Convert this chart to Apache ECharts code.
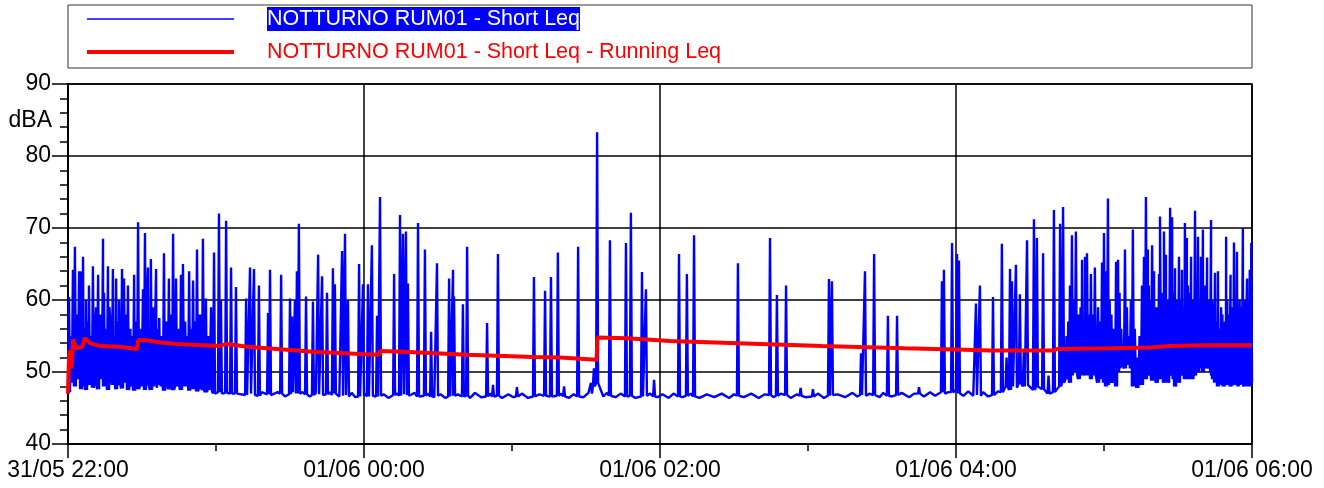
<!DOCTYPE html>
<html>
<head>
<meta charset="utf-8">
<script src="https://cdn.jsdelivr.net/npm/echarts@6/dist/echarts.min.js"></script>
<style>
  html, body { margin: 0; padding: 0; background: #fff; }
  #chart { width: 1324px; height: 488px; }
</style>
</head>
<body>
<div id="chart"></div>
<script>
const FONT = '"Liberation Sans", Arial, sans-serif'

// x axis: minutes since 31/05 22:00, labels every 2 hours
const timeLabels = ['31/05 22:00', '01/06 00:00', '01/06 02:00', '01/06 04:00', '01/06 06:00']
const seriesNames = ['NOTTURNO RUM01 - Short Leq', 'NOTTURNO RUM01 - Short Leq - Running Leq']

// Short Leq events: [minute, peak dBA, level either side of the peak dBA]
const shortLeqEvents = [
  [0.4, 60.4, 47.2], [2.0, 64.2, 49.5], [2.8, 67.4, 48.0], [4.5, 64.0, 50.5], [5.3, 64.0, 47.6],
  [6.1, 66.0, 48.5], [7.3, 60.0, 47.5], [8.5, 62.0, 48.2], [10.1, 64.7, 47.8], [11.4, 59.0, 49.0],
  [12.2, 63.5, 47.6], [14.2, 68.5, 50.0], [14.6, 61.0, 48.0], [16.2, 64.7, 47.5], [17.2, 57.0, 49.5],
  [18.2, 64.3, 48.2], [19.5, 63.0, 47.6], [20.7, 60.0, 48.5], [21.9, 64.3, 47.7], [22.7, 63.0, 49.0],
  [24.3, 62.0, 47.5], [25.3, 56.0, 48.0], [26.8, 63.5, 47.4], [28.4, 70.8, 47.6], [30.4, 61.5, 48.0],
  [31.2, 69.3, 47.5], [32.4, 64.5, 48.6], [33.6, 65.7, 47.5], [35.7, 64.3, 47.8], [37.0, 57.5, 48.5],
  [38.9, 66.5, 47.4], [40.9, 63.0, 47.6], [42.6, 69.2, 47.5], [43.8, 63.0, 48.0], [45.8, 63.5, 47.5],
  [46.6, 65.0, 48.3], [49.1, 64.0, 47.4], [50.7, 62.7, 47.6], [52.3, 67.0, 47.3], [54.7, 68.5, 47.5],
  [55.9, 60.2, 47.2], [58.0, 59.0, 47.3], [59.2, 66.6, 47.0], [61.2, 72.0, 47.2], [62.0, 60.0, 47.0],
  [64.1, 71.0, 47.1], [66.1, 64.5, 47.0], [68.1, 61.8, 47.0], [72.2, 60.2, 46.8], [73.8, 64.5, 47.0],
  [75.4, 64.3, 46.8], [77.4, 62.0, 46.7],
  [81.1, 58.2, 46.9], [81.9, 64.2, 46.8], [86.4, 63.5, 47.0], [90.0, 60.2, 46.9], [90.8, 57.7, 47.2],
  [92.0, 60.0, 47.0], [92.8, 64.0, 47.3], [93.6, 70.6, 47.0], [96.5, 60.5, 46.9], [99.3, 59.8, 46.8],
  [101.4, 66.3, 46.9], [103.0, 63.3, 46.8], [105.0, 61.0, 46.9], [107.4, 64.4, 46.8], [108.2, 62.2, 47.0],
  [111.1, 66.8, 46.7], [112.3, 69.2, 46.8], [113.5, 60.0, 46.6], [118.0, 65.0, 46.6], [119.6, 62.2, 46.7],
  [121.6, 62.2, 46.6], [123.2, 67.6, 46.7], [125.3, 57.8, 46.6], [126.5, 74.3, 46.7], [132.2, 63.6, 46.8],
  [134.6, 71.8, 46.7], [135.8, 69.2, 46.9], [137.0, 69.5, 46.8], [137.8, 62.3, 46.7], [141.9, 70.7, 46.6],
  [144.7, 67.0, 46.7], [147.2, 55.6, 46.6], [149.6, 65.1, 46.7], [154.5, 63.0, 46.6], [156.1, 64.2, 46.8],
  [156.5, 60.5, 46.7], [160.1, 59.4, 46.6], [161.8, 67.4, 46.7], [169.9, 56.8, 46.6], [172.3, 48.2, 46.6],
  [174.3, 66.4, 46.7], [182.0, 47.9, 46.6], [188.9, 63.2, 46.6], [193.4, 61.3, 46.7], [195.8, 63.2, 46.6],
  [198.6, 66.6, 46.7], [201.1, 48.0, 46.6], [206.8, 67.4, 46.6], [212.0, 48.5, 47.0], [213.2, 50.5, 48.0],
  [214.5, 83.3, 48.5], [219.7, 68.3, 46.7], [226.2, 67.9, 46.6], [228.2, 72.1, 46.7], [232.7, 63.9, 46.6],
  [234.3, 61.5, 46.7], [237.6, 48.9, 46.6],
  [247.7, 66.4, 46.6], [250.9, 63.6, 46.7], [253.8, 69.0, 46.6], [271.6, 65.1, 46.7], [284.6, 68.6, 46.8],
  [287.4, 60.7, 46.7], [291.1, 62.0, 46.8], [297.0, 47.8, 46.7], [302.0, 47.6, 46.6], [308.5, 62.9, 46.7],
  [309.7, 62.6, 46.8], [321.5, 52.6, 46.8], [323.1, 64.0, 46.7], [326.8, 66.4, 46.8], [332.4, 57.8, 46.7],
  [336.1, 57.8, 46.8], [345.0, 47.9, 47.0], [354.3, 62.6, 47.2], [355.1, 64.2, 47.0], [358.4, 67.9, 47.2],
  [360.4, 66.4, 47.5], [361.2, 65.5, 47.0],
  [368.1, 59.5, 46.8], [369.7, 62.0, 46.7], [375.0, 60.4, 46.8], [378.6, 67.8, 47.2], [380.5, 52.0, 48.0],
  [381.9, 64.3, 47.5], [382.7, 62.6, 48.0], [384.3, 64.9, 47.8], [385.9, 60.8, 48.5], [387.5, 53.0, 48.0],
  [388.8, 68.3, 48.2], [391.6, 71.2, 47.5], [392.8, 68.6, 48.0], [395.3, 66.5, 47.6], [397.5, 49.5, 47.0],
  [399.7, 72.5, 47.2], [402.2, 70.6, 48.0], [403.4, 72.9, 48.5], [404.8, 55.0, 49.0], [406.2, 62.0, 48.5],
  [407.0, 69.0, 49.5], [408.6, 69.5, 50.0], [409.8, 58.0, 49.0], [411.1, 65.6, 50.5], [412.3, 66.0, 49.5],
  [413.1, 66.5, 50.5], [414.7, 63.6, 49.0], [415.5, 58.0, 50.0], [416.3, 64.5, 49.5], [417.6, 59.0, 48.5],
  [419.2, 65.2, 49.0], [420.0, 69.3, 48.5], [420.8, 64.0, 48.0],
  [421.6, 74.1, 48.2], [423.0, 58.0, 48.5], [424.9, 65.3, 48.0], [425.7, 65.6, 50.0], [427.0, 56.0, 51.0],
  [428.5, 67.0, 50.5], [430.0, 55.0, 51.5], [431.7, 69.8, 48.0], [433.5, 52.0, 47.8], [435.4, 62.0, 48.2],
  [436.2, 66.0, 50.0], [437.0, 74.3, 49.0], [437.8, 67.0, 50.5], [438.6, 60.0, 49.5], [439.5, 67.6, 48.8],
  [440.3, 64.0, 50.0], [441.3, 59.0, 48.5], [442.3, 63.6, 49.0], [442.7, 71.6, 50.0], [443.5, 60.0, 49.5],
  [444.3, 69.5, 48.5], [445.1, 66.3, 50.0], [446.0, 58.0, 48.5], [446.8, 72.8, 49.5], [447.6, 71.5, 50.5],
  [448.8, 64.4, 48.0], [449.6, 60.0, 49.0], [450.4, 66.0, 48.5], [451.6, 64.2, 50.0], [452.8, 70.7, 49.0],
  [453.6, 68.6, 50.5], [454.5, 61.0, 49.0], [455.3, 66.0, 48.8], [456.1, 60.0, 50.0], [456.9, 72.4, 49.5],
  [458.1, 68.8, 50.0], [459.3, 66.0, 51.0], [460.1, 69.8, 50.0], [461.0, 62.0, 51.5], [461.8, 65.9, 50.5],
  [462.6, 60.0, 52.0], [463.4, 71.1, 50.0], [464.2, 58.0, 49.0], [465.0, 63.8, 48.5], [466.2, 64.0, 48.0],
  [467.5, 59.0, 48.5], [468.5, 55.0, 48.0], [469.5, 68.8, 48.2], [470.5, 58.0, 49.0], [471.3, 63.5, 48.0],
  [472.0, 57.0, 48.5], [472.7, 68.0, 48.2], [473.9, 66.7, 48.5], [475.0, 60.0, 48.0], [476.3, 70.0, 48.3],
  [477.2, 58.0, 48.0], [478.0, 63.0, 47.8], [479.1, 64.2, 48.0], [479.7, 67.9, 48.5]
]

// smaller fluctuations filling the busy stretches: [minute, peak dBA, level dBA]
const shortLeqMinor = [
  [1.2, 55, 48.5], [3.6, 58, 49.0], [6.7, 56, 48.0], [7.9, 57, 48.5], [9.3, 55, 48.0], [11.0, 56, 48.5],
  [13.0, 58, 49.0], [15.4, 56, 48.0], [16.8, 59, 48.5], [19.0, 55, 48.0], [20.2, 57, 48.2], [23.5, 58, 48.5],
  [25.9, 55, 48.0], [27.5, 57, 48.2], [29.5, 56, 48.0], [32.0, 58, 48.5], [34.5, 59, 48.0], [36.3, 56, 48.2],
  [38.0, 55, 48.0], [39.8, 57, 48.3], [41.6, 58, 48.0], [44.6, 56, 48.2], [47.5, 57, 48.0], [48.3, 55, 48.2],
  [50.0, 56, 47.8], [51.5, 57, 48.0], [53.5, 58, 47.8], [57.0, 55, 47.5],
  [405.5, 57, 49.0], [407.8, 60, 50.0], [410.5, 59, 49.5], [411.8, 57, 50.0], [413.9, 58, 49.5], [418.4, 57, 49.0],
  [422.3, 60, 49.0], [424.0, 56, 49.5], [426.3, 61, 50.5], [429.3, 59, 51.0], [430.9, 60, 50.5], [432.5, 56, 49.0],
  [434.4, 55, 48.5], [438.2, 62, 50.0], [440.8, 58, 49.5], [443.9, 61, 49.0], [445.6, 60, 49.5], [447.2, 59, 50.0],
  [448.2, 61, 49.0], [449.2, 57, 48.5], [451.0, 60, 49.5], [452.2, 59, 49.5], [454.0, 62, 50.0], [455.8, 58, 49.0],
  [457.5, 61, 50.0], [458.7, 60, 50.5], [460.6, 58, 51.0], [462.2, 57, 51.0], [463.8, 60, 49.5], [465.6, 57, 48.5],
  [466.8, 56, 48.5], [468.0, 58, 48.2], [469.0, 57, 48.5], [470.0, 60, 48.5], [471.7, 59, 48.5], [473.3, 58, 48.5],
  [474.5, 56, 48.0], [475.6, 59, 48.2], [476.8, 60, 48.0], [477.6, 56, 48.0], [478.6, 58, 48.0]
]

// background level between events in the quiet hours: [minute, dBA]
const shortLeqQuiet = [
  [0, 47.5], [78.5, 47.2], [83.0, 46.6], [85.0, 47.2], [88.0, 46.6], [95.0, 47.2], [98.0, 46.6], [100.5, 47.1],
  [104.0, 46.6], [106.0, 47.2], [110.0, 46.6], [115.0, 47.1], [116.5, 46.5], [120.5, 47.0], [124.3, 46.5],
  [128.0, 46.9], [130.0, 46.4], [133.5, 47.0], [139.0, 46.5], [140.5, 47.1], [143.0, 46.5], [146.0, 47.0],
  [148.5, 46.5], [151.0, 46.9], [153.0, 46.4], [158.0, 46.9], [163.0, 46.4], [165.0, 47.1], [167.5, 46.5],
  [171.0, 47.0], [176.0, 46.4], [178.5, 46.9], [180.5, 46.5], [184.0, 47.0], [186.5, 46.4], [191.0, 46.9],
  [197.0, 46.5], [200.0, 47.0], [203.0, 46.4], [205.0, 46.9], [209.0, 46.5], [211.0, 47.1], [217.0, 46.6],
  [218.5, 47.1], [222.0, 46.5], [224.0, 47.0], [230.0, 46.4], [236.0, 47.0], [239.0, 46.5], [241.0, 46.9],
  [243.5, 46.4], [245.5, 47.0], [249.0, 46.5], [252.5, 47.0], [256.0, 46.4], [259.0, 46.9], [262.0, 46.5],
  [265.0, 47.0], [268.0, 46.4], [270.0, 46.9], [274.0, 46.5], [277.0, 47.0], [280.0, 46.4], [282.5, 46.9],
  [286.0, 46.5], [289.0, 47.0], [293.0, 46.4], [295.5, 46.9], [299.0, 46.5], [304.0, 47.0], [306.5, 46.4],
  [312.0, 46.9], [315.0, 46.5], [318.0, 47.1], [320.0, 46.6], [325.0, 47.0], [329.0, 46.5], [330.5, 47.1],
  [334.0, 46.6], [338.0, 47.1], [341.0, 46.5], [343.0, 47.0], [347.0, 46.6], [349.5, 47.2], [351.5, 46.7],
  [357.0, 47.2], [363.0, 46.7], [365.0, 47.3], [367.0, 46.7], [371.0, 47.2], [373.0, 46.6], [377.0, 47.3],
  [480, 48.5]
]

// Running Leq: [minute, dBA]
const runningLeq = [
  [0, 47.0], [0.4, 52.0], [0.8, 53.0], [1.2, 50.5], [1.6, 51.3], [2.0, 54.5], [2.8, 54.7], [3.5, 53.3],
  [4.1, 53.5], [5.7, 53.5], [6.9, 54.7], [8.9, 54.0], [13.0, 53.6], [21.0, 53.5], [28.0, 53.2], [28.4, 54.4],
  [32.0, 54.4], [37.3, 54.1], [44.2, 53.9], [60.8, 53.6], [64.5, 53.9], [72.6, 53.5], [84.7, 53.2],
  [99.3, 52.8], [118.4, 52.5], [126.3, 52.4], [126.6, 52.9], [135.8, 52.8], [161.8, 52.4], [188.5, 52.1],
  [199.5, 52.0], [214.3, 51.7], [214.6, 54.8], [226.6, 54.7], [244.0, 54.3], [271.6, 54.0], [305.7, 53.6],
  [339.3, 53.3], [363.6, 53.1], [373.8, 53.0], [399.7, 53.0], [401.0, 53.2], [422.4, 53.3], [438.6, 53.4],
  [446.8, 53.6], [460.1, 53.7], [480, 53.7]
]

// each event is a narrow needle: level, peak, level
const shortLeqData = shortLeqQuiet.slice()
shortLeqEvents.concat(shortLeqMinor).forEach(([t, peak, level]) => {
  shortLeqData.push([t - 0.4, level], [t, peak], [t + 0.4, level])
})
shortLeqData.sort((a, b) => a[0] - b[0])

const chart = echarts.init(document.getElementById('chart'))

const option = {
  animation: false,
  backgroundColor: '#fff',
  grid: {
    left: 68,
    right: 72,
    top: 84,
    bottom: 44,
    show: true,
    borderColor: '#000',
    borderWidth: 1.5
  },
  legend: {
    orient: 'vertical',
    left: 85,
    top: 7,
    padding: 0,
    itemWidth: 147,
    itemHeight: 14,
    itemGap: 9,
    selectedMode: false,
    itemStyle: { opacity: 0 },
    data: [
      { name: seriesNames[0], lineStyle: { color: '#0000ff', width: 1.5 } },
      { name: seriesNames[1], lineStyle: { color: '#ff0000', width: 4 } }
    ],
    formatter: name => name === seriesNames[0] ? `{gap|}{sel|${name}}` : `{gap|}{txt|${name}}`,
    textStyle: {
      rich: {
        gap: { width: 28, height: 24 },
        sel: { color: '#fff', backgroundColor: '#0000ff', fontFamily: FONT, fontSize: 21.5, height: 24, lineHeight: 24 },
        txt: { color: '#ff0000', fontFamily: FONT, fontSize: 21.5, height: 24, lineHeight: 24 }
      }
    }
  },
  graphic: [
    {
      type: 'rect',
      shape: { x: 68, y: 5, width: 1184, height: 63 },
      style: { fill: 'none', stroke: '#333', lineWidth: 1 },
      silent: true
    },
    {
      type: 'text',
      x: 52,
      y: 121,
      style: { text: 'dBA', fill: '#000', font: '23px ' + FONT, align: 'right', verticalAlign: 'middle' },
      silent: true
    }
  ],
  xAxis: {
    type: 'value',
    min: 0,
    max: 480,
    interval: 120,
    axisLine: { lineStyle: { color: '#000', width: 1.5 } },
    axisTick: { length: 14, lineStyle: { color: '#000', width: 1.5 } },
    minorTick: { show: true, splitNumber: 2, length: 7, lineStyle: { color: '#000', width: 1.5 } },
    splitLine: { lineStyle: { color: '#000', width: 1.5 } },
    axisLabel: {
      margin: 15,
      color: '#000',
      fontFamily: FONT,
      fontSize: 23,
      formatter: v => timeLabels[Math.round(v / 120)]
    }
  },
  yAxis: {
    type: 'value',
    min: 40,
    max: 90,
    interval: 10,
    axisLine: { show: true, lineStyle: { color: '#000', width: 1.5 } },
    axisTick: { show: true, length: 16, lineStyle: { color: '#000', width: 1.5 } },
    minorTick: { show: true, splitNumber: 5, length: 8, lineStyle: { color: '#000', width: 1.5 } },
    splitLine: { lineStyle: { color: '#000', width: 1.5 } },
    axisLabel: { margin: 17, color: '#000', fontFamily: FONT, fontSize: 23 }
  },
  series: [
    {
      name: seriesNames[0],
      type: 'line',
      data: shortLeqData,
      symbol: 'none',
      color: '#0000ff',
      lineStyle: { color: '#0000ff', width: 2.4 },
      z: 2
    },
    {
      name: seriesNames[1],
      type: 'line',
      data: runningLeq,
      symbol: 'none',
      color: '#ff0000',
      lineStyle: { color: '#ff0000', width: 4 },
      z: 3
    }
  ]
}

chart.setOption(option)
</script>
</body>
</html>
